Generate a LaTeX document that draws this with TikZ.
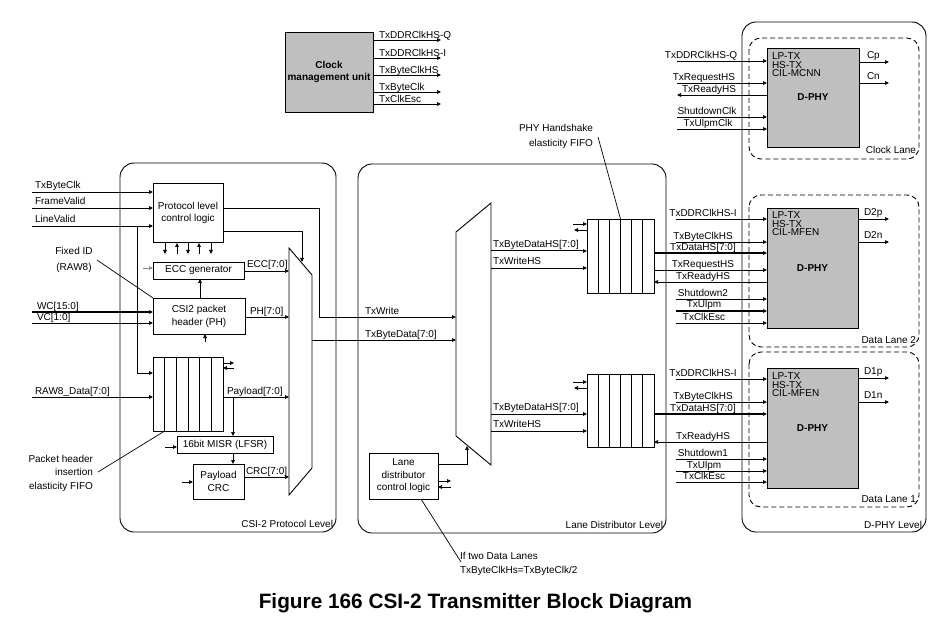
\documentclass[tikz,border=0pt]{standalone}
\usepackage{fontspec}
\setmainfont{Liberation Sans}
\usetikzlibrary{arrows.meta,calc}
\begin{document}
\begin{tikzpicture}[x=1pt,y=-1pt,
  every node/.style={inner sep=0pt,outer sep=0pt,font=\fontsize{10}{12}\selectfont},
  ln/.style={line width=0.7pt},
  arr/.style={line width=0.7pt,-{Triangle[length=4pt,width=3.6pt]}},
  bus/.style={line width=1.5pt},
  blk/.style={draw,line width=0.8pt,align=center},
  gblk/.style={draw,line width=0.8pt,fill=black!25,align=center},
  level/.style={draw,line width=0.9pt,rounded corners=14pt},
  lane/.style={draw,line width=0.9pt,dash pattern=on 5pt off 3pt,rounded corners=12pt},
  lbl/.style={anchor=base west},
  lblc/.style={anchor=base},
  lble/.style={anchor=base east},
  phytxt/.style={anchor=north west,align=left,font=\fontsize{10}{8.5}\selectfont},
  bold/.style={font=\fontsize{10}{12}\selectfont\bfseries},
]
\useasboundingbox (0,0) rectangle (942,620);

% ================= Clock management unit
\node[gblk,bold,minimum width=88,minimum height=80] (cmu) at (329,72) {Clock\\management unit};
\coordinate (cq) at (441,40);
\coordinate (ci) at (441,58);
\coordinate (chs) at (441,75);
\coordinate (cbc) at (441,92);
\coordinate (cesc) at (441,104);
\draw[arr] (cmu.east |- cq) -- (cq);
\draw[arr] (cmu.east |- ci) -- (ci);
\draw[arr] (cmu.east |- chs) -- (chs);
\draw[arr] (cmu.east |- cbc) -- (cbc);
\draw[arr] (cmu.east |- cesc) -- (cesc);
\node[lbl] (cqL) at (379,38.5) {TxDDRClkHS-Q};
\node[lbl] (ciL) at (379,56.5) {TxDDRClkHS-I};
\node[lbl] (chsL) at (379,73.5) {TxByteClkHS};
\node[lbl] (cbcL) at (379,90.5) {TxByteClk};
\node[lbl] (cescL) at (379,102.5) {TxClkEsc};

% ================= CSI-2 Protocol Level
\draw[level] (120,163) rectangle (336,532);
\node[lble] (lvlP) at (333,527) {CSI-2 Protocol Level};

\node[blk,minimum width=70,minimum height=59] (ctl) at (188,212.5) {Protocol level\\control logic};
\node[blk,minimum width=91,minimum height=17] (ecc) at (198.5,270.5) {ECC generator};
\node[blk,minimum width=92,minimum height=36,font=\fontsize{10}{13}\selectfont] (ph) at (199,316) {CSI2 packet\\header (PH)};
\node[blk,minimum width=70,minimum height=74] (pf) at (188,394) {};
\foreach \k in {1,...,5}
  \draw[ln] ($(pf.north west)!\k/6!(pf.north east)$) -- ($(pf.south west)!\k/6!(pf.south east)$);
\node[blk,minimum width=96,minimum height=17] (misr) at (225,444.5) {16bit MISR (LFSR)};
\node[blk,minimum width=51,minimum height=35,font=\fontsize{10}{13}\selectfont] (crc) at (218.5,481.5) {Payload\\CRC};

% left multiplexer
\coordinate (m1a) at (289,248);
\coordinate (m1b) at (312,275);
\coordinate (m1c) at (312,468);
\coordinate (m1d) at (289,495);
\draw[line width=0.9pt] (m1a) -- (m1b) -- (m1c) -- (m1d) -- cycle;

% inputs
\coordinate (tbc) at (32,192);
\coordinate (fv) at (32,208);
\coordinate (lv) at (32,226);
\draw[arr] (tbc) -- (ctl.west |- tbc);
\draw[arr] (fv) -- (ctl.west |- fv);
\draw[arr] (lv) -- (ctl.west |- lv);
\node[lbl] (tbcL) at (35,189) {TxByteClk};
\node[lbl] (fvL) at (35,205) {FrameValid};
\node[lbl] (lvL) at (35,223) {LineValid};
\coordinate (lvb) at (137,226);
\draw[arr] (lvb) |- (pf.west |- 0,373);

% control logic outputs
\coordinate (txw) at (456,317);
\coordinate (txbd) at (456,340);
\draw[arr] (ctl.east |- fv) -- (319,208) -- (319,317) -- (txw);
\node[lbl] (txwL) at (365,314) {TxWrite};
\coordinate (sel1) at (302,262);
\draw[arr] (ctl.east |- 0,231) -| (sel1);
\foreach \xx in {165,188,211} \draw[arr] (\xx,243) -- (\xx,254);
\foreach \xx in {177,199} \draw[arr] (\xx,254) -- (\xx,243);

% ECC
\draw[arr,black!45] (143,268) -- (ecc.west |- 0,268);
\draw[arr] (ecc.east |- 0,271) -- (m1a |- 0,271);
\node[lbl] (eccL) at (247,268) {ECC[7:0]};
\draw[arr] (ph.north -| 200,0) -- (ecc.south -| 200,0);

% PH
\draw[arr] (205,342) -- (ph.south -| 205,0);
\draw[arr] (ph.east |- 0,317) -- (m1a |- 0,317);
\node[lbl] (phL) at (250,314) {PH[7:0]};
\coordinate (wc) at (32,312);
\coordinate (vc) at (32,323);
\draw[arr,bus] (wc) -- (ph.west |- wc);
\draw[arr] (vc) -- (ph.west |- vc);
\node[lbl] (wcL) at (37,309) {WC[15:0]};
\node[lbl] (vcL) at (37,320) {VC[1:0]};
\node[lblc] (fid1) at (74,254.5) {Fixed ID};
\node[lblc] (fid2) at (74,270.5) {(RAW8)};
\draw[ln] (97,260) -- (ph.north west);

% FIFO
\draw[arr] (pf.east |- 0,363) -- (234,363);
\draw[arr] (234,368) -- (pf.east |- 0,368);
\coordinate (raw) at (32,397);
\draw[arr] (raw) -- (pf.west |- raw);
\node[lbl] (rawL) at (35,394) {RAW8\_Data[7:0]};
\draw[arr] (pf.east |- raw) -- (m1a |- raw);
\node[lbl] (plL) at (227,394) {Payload[7:0]};
\draw[arr] (233,397) -- (misr.north -| 233,0);
\draw[arr] (165,447) -- (misr.west |- 0,447);
\draw[arr] (misr.south -| 233,0) -- (crc.north -| 233,0);
\draw[arr] (182,482) -- (crc.west |- 0,482);
\draw[arr] (crc.east |- 0,477) -- (m1a |- 0,477);
\node[lbl] (crcL) at (246,474) {CRC[7:0]};
\node[lble] (phi1) at (93,462.5) {Packet header};
\node[lble] (phi2) at (93,475) {insertion};
\node[lble] (phi3) at (93,489) {elasticity FIFO};
\draw[ln] (98,472) -- ($(pf.south west)!1/6!(pf.south east)$);

% TxByteData
\draw[arr] (m1b |- txbd) -- (txbd);
\node[lbl] (txbdL) at (365,337) {TxByteData[7:0]};

% ================= Lane Distributor Level
\draw[level] (358,164) rectangle (666,533);
\node[lble] (lvlL) at (663,528) {Lane Distributor Level};
\coordinate (m2a) at (456,232);
\coordinate (m2b) at (491,203);
\coordinate (m2c) at (491,465);
\coordinate (m2d) at (456,436);
\draw[line width=0.9pt] (m2a) -- (m2b) -- (m2c) -- (m2d) -- cycle;

\node[blk,minimum width=69,minimum height=46,font=\fontsize{10}{12.5}\selectfont] (ldc) at (403.5,476) {Lane\\distributor\\control logic};
\coordinate (sel2) at (467,446);
\draw[arr] (ldc.east |- 0,464) -| (sel2);
\draw[arr] (ldc.east |- 0,481) -- (451,481);
\draw[arr] (451,487) -- (ldc.east |- 0,487);
\coordinate (note) at (461,562);
\draw[ln] (ldc.south -| 421,0) -- (note);
\node[lbl] (note1) at (460,559.5) {If two Data Lanes};
\node[lbl] (note2) at (460,573.5) {TxByteClkHs=TxByteClk/2};

% PHY handshake FIFOs
\node[blk,minimum width=67,minimum height=74] (hf2) at (620.5,256) {};
\node[blk,minimum width=67,minimum height=73] (hf1) at (620.5,410.5) {};
\foreach \k in {1,...,5}{
  \draw[ln] ($(hf2.north west)!\k/6!(hf2.north east)$) -- ($(hf2.south west)!\k/6!(hf2.south east)$);
  \draw[ln] ($(hf1.north west)!\k/6!(hf1.north east)$) -- ($(hf1.south west)!\k/6!(hf1.south east)$);
}
\draw[arr] (573,224) -- (hf2.west |- 0,224);
\draw[arr] (hf2.west |- 0,230) -- (574,230);
\draw[arr] (573,382) -- (hf1.west |- 0,382);
\draw[arr] (hf1.west |- 0,388) -- (574,388);
\node[lble] (phy1) at (593,131.5) {PHY Handshake};
\node[lble] (phy2) at (593,146.5) {elasticity FIFO};
\draw[ln] (598,137) -- ($(hf2.north west)!1/2!(hf2.north east)$);

\draw[arr,line width=1pt] (m2b |- 0,251) -- (hf2.west |- 0,251);
\draw[arr] (m2b |- 0,268) -- (hf2.west |- 0,268);
\node[lbl] (bd2L) at (493,247.5) {TxByteDataHS[7:0]};
\node[lbl] (wh2L) at (493,264.5) {TxWriteHS};
\draw[arr,line width=1pt] (m2b |- 0,414) -- (hf1.west |- 0,414);
\draw[arr] (m2b |- 0,431) -- (hf1.west |- 0,431);
\node[lbl] (bd1L) at (493,410.5) {TxByteDataHS[7:0]};
\node[lbl] (wh1L) at (493,427.5) {TxWriteHS};

% ================= D-PHY Level
\draw[level] (742,22) rectangle (926,532);
\node[lble] (lvlD) at (922,528) {D-PHY Level};
\draw[lane] (749,38) rectangle (919,159);
\node[lble] (clL) at (916,154) {Clock Lane};
\draw[lane] (749,195) rectangle (919,347);
\node[lble] (dl2L) at (916,343) {Data Lane 2};
\draw[lane] (749,352) rectangle (919,507);
\node[lble] (dl1L) at (916,502) {Data Lane 1};

\node[gblk,bold,minimum width=92,minimum height=99] (dpc) at (813,97.5) {D-PHY};
\node[gblk,bold,minimum width=91,minimum height=120] (dp2) at (812.5,268) {D-PHY};
\node[gblk,bold,minimum width=91,minimum height=120] (dp1) at (812.5,428) {D-PHY};
\node[phytxt] (dpcT) at ([xshift=5pt,yshift=-5pt]dpc.north west) {LP-TX\\HS-TX\\CIL-MCNN};
\node[phytxt] (dp2T) at ([xshift=5pt,yshift=-4pt]dp2.north west) {LP-TX\\HS-TX\\CIL-MFEN};
\node[phytxt] (dp1T) at ([xshift=5pt,yshift=-5pt]dp1.north west) {LP-TX\\HS-TX\\CIL-MFEN};

% outputs
\draw[arr] (dpc.east |- 0,62) -- (889,62);
\draw[arr] (dpc.east |- 0,83) -- (889,83);
\node[lbl] (cpL) at (867,58.5) {Cp};
\node[lbl] (cnL) at (867,79.5) {Cn};
\draw[arr] (dp2.east |- 0,219) -- (889,219);
\draw[arr] (dp2.east |- 0,242) -- (889,242);
\node[lbl] (d2pL) at (864,215.5) {D2p};
\node[lbl] (d2nL) at (864,238.5) {D2n};
\draw[arr] (dp1.east |- 0,378) -- (889,378);
\draw[arr] (dp1.east |- 0,402) -- (889,402);
\node[lbl] (d1pL) at (864,374.5) {D1p};
\node[lbl] (d1nL) at (864,398.5) {D1n};

% clock lane inputs
\draw[arr] (677,61) -- (dpc.west |- 0,61);
\draw[arr] (677,83) -- (dpc.west |- 0,83);
\draw[arr] (dpc.west |- 0,95) -- (677,95);
\draw[arr] (677,117) -- (dpc.west |- 0,117);
\draw[arr] (677,129) -- (dpc.west |- 0,129);
\node[lblc] (c1L) at (701,58.5) {TxDDRClkHS-Q};
\node[lblc] (c2L) at (704,80.5) {TxRequestHS};
\node[lblc] (c3L) at (709,92.5) {TxReadyHS};
\node[lblc] (c4L) at (707,114.5) {ShutdownClk};
\node[lblc] (c5L) at (708,126.5) {TxUlpmClk};

% data lane 2 inputs
\draw[arr] (676,219) -- (dp2.west |- 0,219);
\draw[arr] (676,242) -- (dp2.west |- 0,242);
\draw[arr,bus] (hf2.east |- 0,253) -- (dp2.west |- 0,253);
\draw[arr] (hf2.east |- 0,270) -- (dp2.west |- 0,270);
\draw[arr] (dp2.west |- 0,282) -- (hf2.east |- 0,282);
\draw[arr] (676,299) -- (dp2.west |- 0,299);
\draw[arr,bus] (676,311) -- (dp2.west |- 0,311);
\draw[arr] (676,323) -- (dp2.west |- 0,323);
\node[lblc] (a1L) at (703,216.5) {TxDDRClkHS-I};
\node[lblc] (a2L) at (703,239.5) {TxByteClkHS};
\node[lblc] (a3L) at (703,250.5) {TxDataHS[7:0]};
\node[lblc] (a4L) at (703,267.5) {TxRequestHS};
\node[lblc] (a5L) at (703,279.5) {TxReadyHS};
\node[lblc] (a6L) at (703,296.5) {Shutdown2};
\node[lblc] (a7L) at (704,308) {TxUlpm};
\node[lblc] (a8L) at (704,320.5) {TxClkEsc};

% data lane 1 inputs
\draw[arr] (676,379) -- (dp1.west |- 0,379);
\draw[arr] (676,402) -- (dp1.west |- 0,402);
\draw[arr,bus] (hf1.east |- 0,414) -- (dp1.west |- 0,414);
\draw[arr] (dp1.west |- 0,442) -- (hf1.east |- 0,442);
\draw[arr] (676,459) -- (dp1.west |- 0,459);
\draw[arr] (676,471) -- (dp1.west |- 0,471);
\draw[arr] (676,482) -- (dp1.west |- 0,482);
\node[lblc] (b1L) at (703,376.5) {TxDDRClkHS-I};
\node[lblc] (b2L) at (703,399.5) {TxByteClkHS};
\node[lblc] (b3L) at (703,411.5) {TxDataHS[7:0]};
\node[lblc] (b4L) at (703,439.5) {TxReadyHS};
\node[lblc] (b5L) at (703,456.5) {Shutdown1};
\node[lblc] (b6L) at (704,468.5) {TxUlpm};
\node[lblc] (b7L) at (704,479.5) {TxClkEsc};

% ================= caption
\node[anchor=base,font=\fontsize{20.8}{24}\selectfont\bfseries] (cap) at (475.5,608) {Figure 166 CSI-2 Transmitter Block Diagram};
\end{tikzpicture}
\end{document}
